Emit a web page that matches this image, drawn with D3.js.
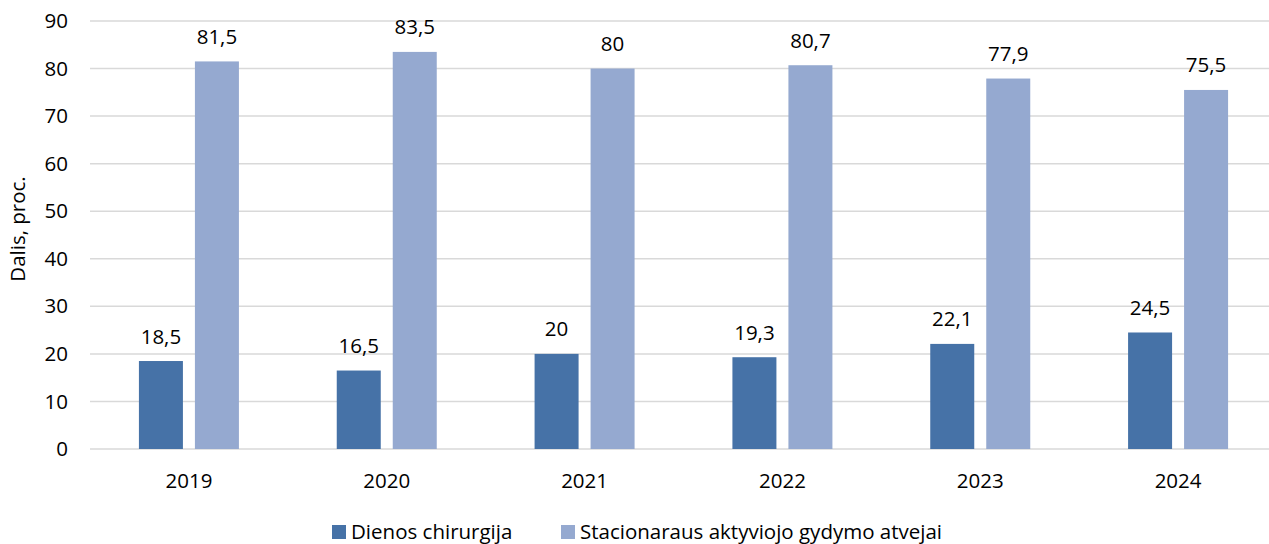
<!DOCTYPE html>
<html>
<head>
<meta charset="utf-8">
<script src="https://cdn.jsdelivr.net/npm/d3@7"></script>
<style>
  html, body { margin: 0; padding: 0; background: #fff; }
  svg { display: block; font-family: "Open Sans", "Noto Sans", sans-serif; }
</style>
</head>
<body>
<svg id="chart" width="1269" height="544"></svg>
<script>
// Years on the category axis
const years = ["2019", "2020", "2021", "2022", "2023", "2024"];
// Share of day surgery cases, %
const daySurgery = [18.5, 16.5, 20, 19.3, 22.1, 24.5];
// Share of inpatient acute treatment cases, %
const inpatient = [81.5, 83.5, 80, 80.7, 77.9, 75.5];
// Value axis ticks
const yTicks = [0, 10, 20, 30, 40, 50, 60, 70, 80, 90];
const seriesNames = ["Dienos chirurgija", "Stacionaraus aktyviojo gydymo atvejai"];
const seriesColors = ["#4672A7", "#95A9D0"];

const svg = d3.select("#chart");
const plot = { left: 90, right: 1277, top: 21, bottom: 449 };
const fontSize = 20.5;

const x = d3.scaleBand().domain(years).range([plot.left, plot.right]).paddingInner(0).paddingOuter(0);
const y = d3.scaleLinear().domain([0, 90]).range([plot.bottom, plot.top]);

const barW = 44, gap = 12;
const fmt = v => String(v).replace(".", ",");

// gridlines
svg.append("g")
  .selectAll("line")
  .data(yTicks)
  .join("line")
  .attr("x1", plot.left).attr("x2", plot.right)
  .attr("y1", d => y(d)).attr("y2", d => y(d))
  .attr("stroke", "#D9D9D9").attr("stroke-width", 1.5);

// y axis labels
const yAxis = svg.append("g")
  .attr("transform", `translate(68,0)`)
  .call(d3.axisLeft(y).tickValues(yTicks).tickSize(0).tickPadding(0).tickFormat(d => d));
yAxis.select(".domain").remove();
yAxis.selectAll("text")
  .attr("font-size", fontSize).attr("fill", "#000")
  .attr("font-family", "Open Sans, Noto Sans, sans-serif");

// x axis labels
const xAxis = svg.append("g")
  .attr("transform", `translate(0,${plot.bottom})`)
  .call(d3.axisBottom(x).tickSize(0).tickPadding(24));
xAxis.select(".domain").remove();
xAxis.selectAll("text")
  .attr("font-size", fontSize).attr("fill", "#000")
  .attr("font-family", "Open Sans, Noto Sans, sans-serif");

// y axis title
svg.append("text")
  .attr("transform", `translate(25,229) rotate(-90)`)
  .attr("text-anchor", "middle")
  .attr("font-size", fontSize)
  .text("Dalis, proc.");

const series = [daySurgery, inpatient];
series.forEach((vals, si) => {
  const offset = si === 0 ? -(gap / 2 + barW) : gap / 2;
  const g = svg.append("g");
  g.selectAll("rect")
    .data(vals)
    .join("rect")
    .attr("x", (d, i) => x(years[i]) + x.bandwidth() / 2 + offset)
    .attr("y", d => y(d))
    .attr("width", barW)
    .attr("height", d => y(0) - y(d))
    .attr("fill", seriesColors[si]);
  g.selectAll("text")
    .data(vals)
    .join("text")
    .attr("x", (d, i) => x(years[i]) + x.bandwidth() / 2 + offset + barW / 2)
    .attr("y", d => y(d) - 17.5)
    .attr("text-anchor", "middle")
    .attr("font-size", fontSize)
    .attr("fill", "#000")
    .text(d => fmt(d));
});

// legend
const legendItems = [
  { x: 332, name: seriesNames[0], color: seriesColors[0] },
  { x: 561, name: seriesNames[1], color: seriesColors[1] }
];
const lg = svg.append("g");
legendItems.forEach(it => {
  lg.append("rect").attr("x", it.x).attr("y", 525).attr("width", 14).attr("height", 14).attr("fill", it.color);
  lg.append("text").attr("x", it.x + 19).attr("y", 539).attr("font-size", fontSize).attr("fill", "#000").text(it.name);
});
</script>
</body>
</html>
